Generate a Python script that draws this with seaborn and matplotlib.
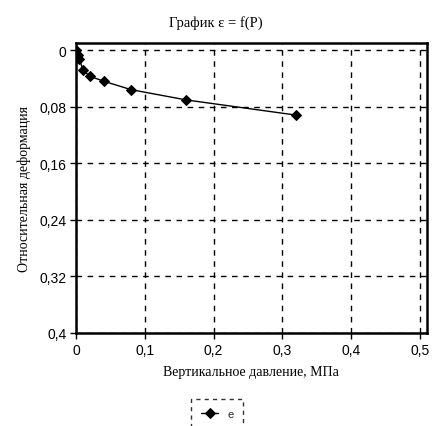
import matplotlib
matplotlib.use("Agg")
import matplotlib.pyplot as plt
import seaborn as sns
import pandas as pd
from matplotlib.ticker import FuncFormatter

pressure = [0, 0.0025, 0.005, 0.01, 0.02, 0.04, 0.08, 0.16, 0.32]
strain = [0, 0.007, 0.013, 0.028, 0.037, 0.044, 0.056, 0.0705, 0.092]
x_ticks = [0, 0.1, 0.2, 0.3, 0.4, 0.5]
y_ticks = [0, 0.08, 0.16, 0.24, 0.32, 0.4]
series_name = "e"

sns.set_theme(style="white")
plt.rcParams["font.family"] = ["Liberation Sans", "DejaVu Sans"]

df = pd.DataFrame({"P": pressure, "eps": strain, "s": series_name})

fig = plt.figure(figsize=(4.32, 4.27), dpi=100)
ax = fig.add_axes([0.176, 0.218, 0.812, 0.679])

sns.lineplot(data=df, x="P", y="eps", hue="s", palette=["black"], marker="D",
             markersize=5, linewidth=1, markeredgecolor="black", ax=ax)

ax.set_xlim(0, 0.51)
ax.set_ylim(0.4, -0.01)
ax.set_xticks(x_ticks)
ax.set_yticks(y_ticks)
fmt = FuncFormatter(lambda v, p: ("%g" % round(v, 3)).replace(".", ","))
ax.xaxis.set_major_formatter(fmt)
ax.yaxis.set_major_formatter(fmt)
ax.tick_params(axis="both", which="both", direction="out", length=4, width=1,
               colors="black", labelsize=10, bottom=True, left=True, pad=3)
ax.grid(True, color="black", linestyle=(0, (4, 4)), linewidth=1)
for sp in ax.spines.values():
    sp.set_color("black")
    sp.set_linewidth(1.8)

ax.set_xlabel("Вертикальное давление, МПа", family=["Liberation Serif"], fontsize=10, color="black", labelpad=6)
ax.set_ylabel("Относительная деформация", family=["Liberation Serif"], fontsize=10, color="black", labelpad=6)
fig.text(0.5, 0.947, "График ε = f(P)", family=["Liberation Serif", "DejaVu Serif"],
         fontsize=10.5, ha="center", va="center", color="black")

leg = ax.legend(loc="upper center", bbox_to_anchor=(0.403, -0.228), frameon=True,
                fontsize=8, handlelength=1.5, borderpad=0.9, borderaxespad=0, fancybox=False)
leg.get_frame().set_edgecolor("black")
leg.get_frame().set_linestyle((0, (3, 3)))
leg.get_frame().set_linewidth(1)

fig.savefig("out.png", dpi=100, facecolor="white")
